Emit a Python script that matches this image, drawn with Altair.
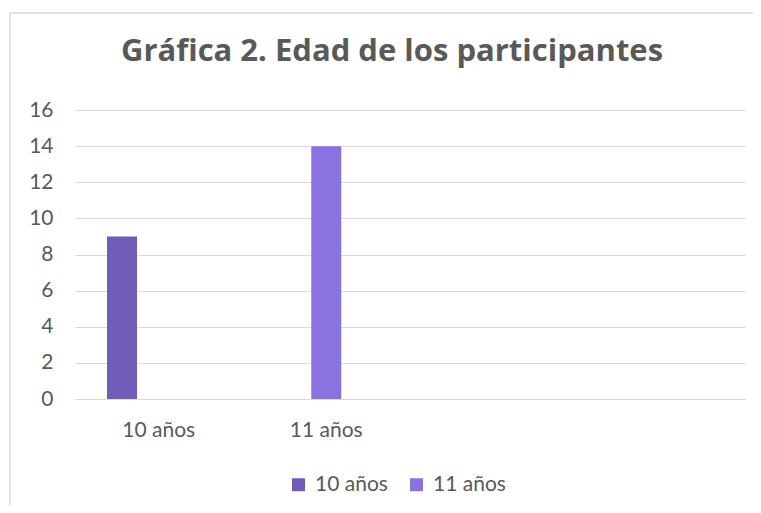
import altair as alt
import pandas as pd

categorias = ["10 años", "11 años"]
series = ["10 años", "11 años"]
valores = [9, 14]
dominio_x = ["10 años", "11 años", " ", "  "]
dominio_offset = ["10 años", "11 años", "—"]
colores = ["#6F5DB8", "#8A73E0"]
ticks_y = [0, 2, 4, 6, 8, 10, 12, 14, 16]

df = pd.DataFrame({"categoria": categorias, "serie": series, "valor": valores})

FONT = "Lato"
GRAY = "#595959"

bars = alt.Chart(df).mark_bar().encode(
    x=alt.X("categoria:N", sort=dominio_x,
            scale=alt.Scale(domain=dominio_x, paddingInner=0, paddingOuter=0),
            axis=alt.Axis(title=None, labelAngle=0, ticks=False, domain=True,
                          domainColor="#D9D9D9", domainWidth=1, grid=False,
                          labelPadding=20, labelFontSize=21, labelFont=FONT,
                          labelColor=GRAY)),
    xOffset=alt.XOffset("serie:N",
                        scale=alt.Scale(domain=dominio_offset, paddingInner=0.1837,
                                        paddingOuter=0.871)),
    y=alt.Y("valor:Q", scale=alt.Scale(domain=[0, 16], nice=False),
            axis=alt.Axis(title=None, values=ticks_y, ticks=False, domain=False,
                          gridColor="#D9D9D9", gridWidth=1, labelPadding=22,
                          labelFontSize=21, labelFont=FONT, labelColor=GRAY)),
    color=alt.Color("serie:N", scale=alt.Scale(domain=series, range=colores),
                    legend=alt.Legend(title=None, orient="none", direction="horizontal",
                                      legendX=213, legendY=364, symbolType="square",
                                      symbolSize=169, symbolStrokeWidth=0,
                                      labelFontSize=21, labelFont=FONT,
                                      labelColor=GRAY, columnPadding=18,
                                      labelOffset=6, padding=0)),
)

top_edge = alt.Chart(df).mark_rule(stroke="#D9D9D9", strokeWidth=1).encode(
    x=alt.value(-65), x2=alt.value(700), y=alt.value(-97)
)
left_edge = alt.Chart(df).mark_rule(stroke="#D9D9D9", strokeWidth=1).encode(
    x=alt.value(-65), y=alt.value(-97), y2=alt.value(420)
)

chart = alt.layer(top_edge, left_edge, bars).properties(
    width=670, height=289,
    title=alt.TitleParams("Gráfica 2. Edad de los participantes", font="Open Sans",
                          fontSize=31, fontWeight="bold", color=GRAY,
                          anchor="middle", baseline="alphabetic", dx=-18,
                          offset=0, dy=79, frame="group"),
    padding={"left": 67, "top": 102, "right": 8, "bottom": 106},
    autosize=alt.AutoSizeParams(type="none"),
).configure(background="white").configure_view(stroke=None)

chart.save("out.html", embed_options={"renderer": "svg", "actions": False})
